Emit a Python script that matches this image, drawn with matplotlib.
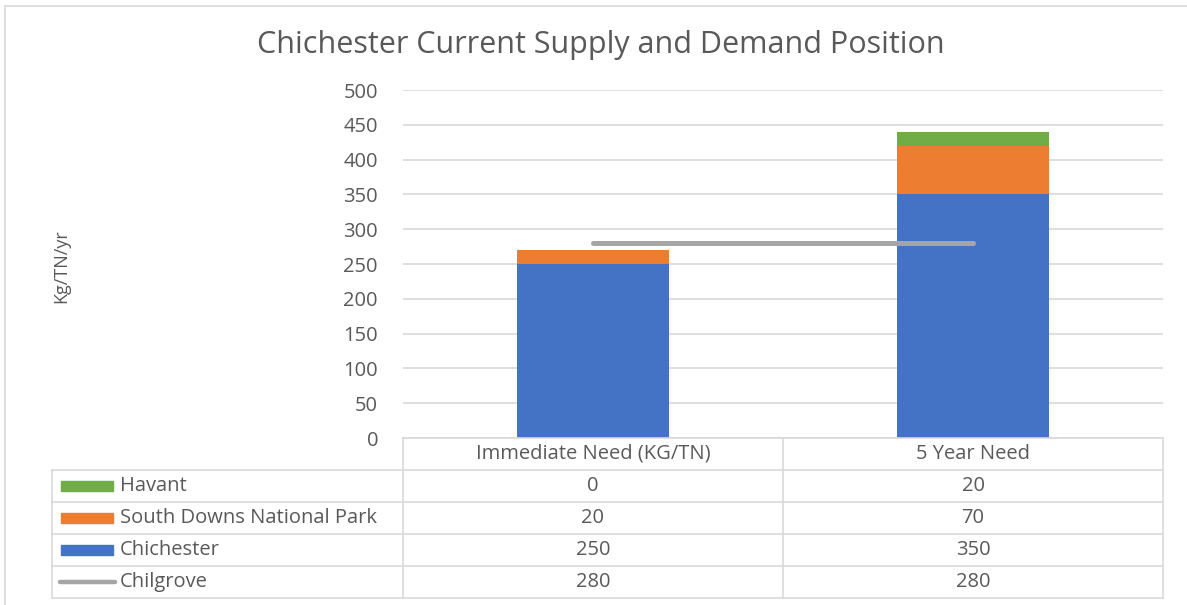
import matplotlib.pyplot as plt
from matplotlib.lines import Line2D

categories = ['Immediate Need (KG/TN)', '5 Year Need']
chichester = [250, 350]
south_downs = [20, 70]
havant = [0, 20]
chilgrove = [280, 280]
y_ticks = [0, 50, 100, 150, 200, 250, 300, 350, 400, 450, 500]

BLUE = '#4472C4'
ORANGE = '#ED7D31'
GREEN = '#70AD47'
GREY = '#A5A5A5'
TEXT = '#595959'
GRID = '#D9D9D9'

W, H = 1187, 605
plt.rcParams['font.family'] = ['Open Sans', 'DejaVu Sans']

fig = plt.figure(figsize=(W / 100, H / 100), dpi=100)


def fx(x):
    return x / W


def fy(y):
    return 1 - y / H


# plot area in pixel coords
left, right, top, bottom = 403, 1163, 90, 438
ax = fig.add_axes([fx(left), fy(bottom), fx(right) - fx(left), fy(top) - fy(bottom)])

x = list(range(len(categories)))
ax.bar(x, chichester, width=0.4, color=BLUE, zorder=2)
ax.bar(x, south_downs, width=0.4, bottom=chichester, color=ORANGE, zorder=2)
stack2 = [a + b for a, b in zip(chichester, south_downs)]
ax.bar(x, havant, width=0.4, bottom=stack2, color=GREEN, zorder=2)
ax.plot(x, chilgrove, color=GREY, lw=3.6, solid_capstyle='round', zorder=3)

ax.set_xlim(-0.5, 1.5)
ax.set_ylim(0, 500)
ax.set_yticks(y_ticks)
ax.set_xticks([])
ax.yaxis.grid(True, color=GRID, lw=1.2, zorder=0)
ax.tick_params(axis='y', length=0, pad=18, labelsize=14.5, labelcolor=TEXT)
for s in ax.spines.values():
    s.set_visible(False)

# title and y label
fig.text(fx(601), fy(45), 'Chichester Current Supply and Demand Position',
         ha='center', va='center', fontsize=22, color=TEXT)
fig.text(fx(61), fy(266), 'Kg/TN/yr', rotation=90, ha='center', va='center',
         fontsize=13, color=TEXT)


def hline(y, x0, x1, color=GRID, lw=1.2):
    fig.add_artist(Line2D([fx(x0), fx(x1)], [fy(y), fy(y)], color=color, lw=lw,
                          transform=fig.transFigure))


def vline(x0, y0, y1, color=GRID, lw=1.2):
    fig.add_artist(Line2D([fx(x0), fx(x0)], [fy(y0), fy(y1)], color=color, lw=lw,
                          transform=fig.transFigure))


# outer chart frame
hline(6, 5, W)
vline(5, 6, H)

# data table
tab_left = 52
col_x = [left, 783, right]
row_y = [438, 470, 502, 534, 566, 598]
hline(row_y[0], left, right)
for y in row_y[1:]:
    hline(y, tab_left, right)
vline(tab_left, row_y[1], row_y[-1])
for cx in col_x:
    vline(cx, row_y[0], row_y[-1])

col_centers = [(col_x[i] + col_x[i + 1]) / 2 for i in range(2)]
for cx, cat in zip(col_centers, categories):
    fig.text(fx(cx), fy((row_y[0] + row_y[1]) / 2), cat, ha='center', va='center',
             fontsize=14.5, color=TEXT)

rows = [('Havant', havant, GREEN, 'bar'),
        ('South Downs National Park', south_downs, ORANGE, 'bar'),
        ('Chichester', chichester, BLUE, 'bar'),
        ('Chilgrove', chilgrove, GREY, 'line')]
for i, (name, vals, color, kind) in enumerate(rows):
    yc = (row_y[i + 1] + row_y[i + 2]) / 2
    if kind == 'bar':
        fig.add_artist(plt.Rectangle((fx(61), fy(yc + 5)), fx(113) - fx(61), fy(yc - 5) - fy(yc + 5),
                                     color=color, transform=fig.transFigure))
    else:
        fig.add_artist(Line2D([fx(60), fx(115)], [fy(yc), fy(yc)], color=color, lw=3.2,
                              solid_capstyle='round', transform=fig.transFigure))
    fig.text(fx(120), fy(yc), name, ha='left', va='center', fontsize=14.5, color=TEXT)
    for cx, v in zip(col_centers, vals):
        fig.text(fx(cx), fy(yc), str(v), ha='center', va='center', fontsize=14.5, color=TEXT)

fig.savefig('out.png', dpi=100, facecolor='white')
